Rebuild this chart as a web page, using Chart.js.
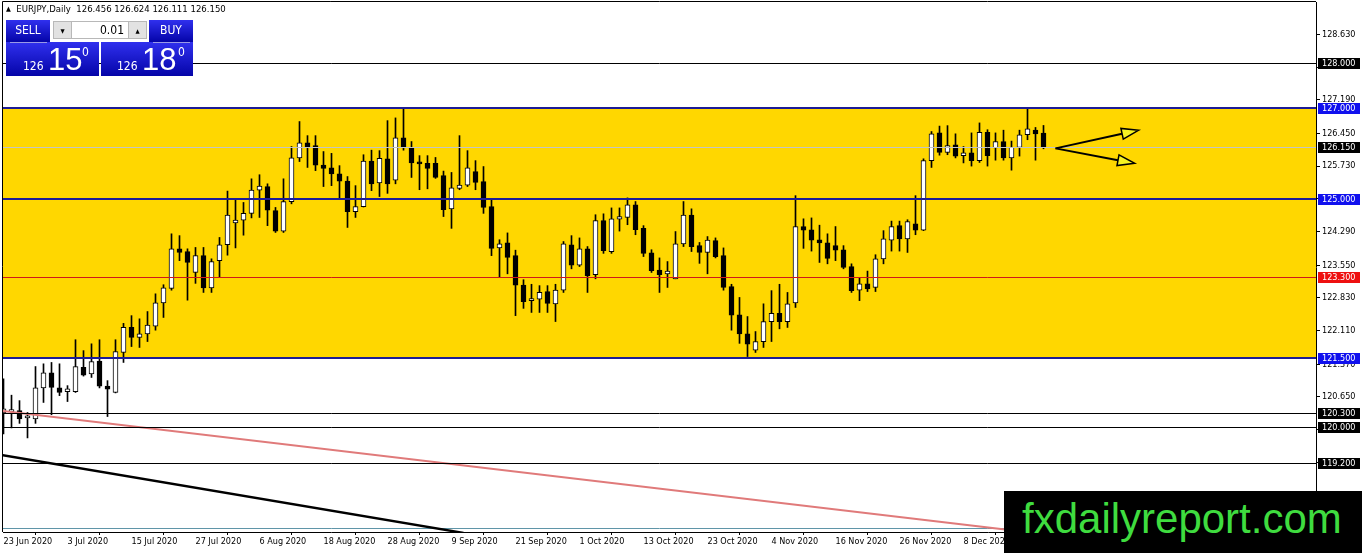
<!DOCTYPE html>
<html>
<head>
<meta charset="utf-8">
<title>EURJPY Daily</title>
<script src="https://cdn.jsdelivr.net/npm/chart.js@4.4.1/dist/chart.umd.min.js"></script>
<style>
  body { margin: 0; background: #fff; }
  #wrap { position: relative; width: 1362px; height: 553px; overflow: hidden; }
  #c { position: absolute; left: 0; top: 0; }
  .ui { position: absolute; font-family: "DejaVu Sans Condensed", "DejaVu Sans", sans-serif; }
  .blue { background: linear-gradient(#3030ee, #0404a8); color: #fff; }
  .sep { position: absolute; height: 1px; background: #9a9ae6; }
  .txt { position: absolute; color: #fff; white-space: nowrap; }
</style>
</head>
<body>
<div id="wrap">
  <canvas id="c" width="1362" height="553"></canvas>

  <div class="ui" style="left:6px;top:3px;font-size:9.5px;color:#000;white-space:nowrap;">
    <span style="font-size:7px;position:relative;top:-1px;">&#9650;</span>&nbsp; EURJPY,Daily&nbsp; 126.456 126.624 126.111 126.150
  </div>

  <div class="ui blue" style="left:6px;top:20px;width:44px;height:22px;font-size:12px;line-height:21px;text-align:center;">SELL</div>
  <div class="ui blue" style="left:149px;top:20px;width:44px;height:22px;font-size:12px;line-height:21px;text-align:center;">BUY</div>
  <div class="ui" style="left:51px;top:20px;width:97px;height:21px;background:#fff;">
    <div style="position:absolute;left:2px;top:1px;width:19px;height:18px;background:#e2e2e2;border:1px solid #b8b8b8;box-sizing:border-box;font-size:6px;line-height:17px;text-align:center;">&#9660;</div>
    <div style="position:absolute;left:21px;top:1px;width:56px;height:18px;background:#fff;border-top:1px solid #b8b8b8;border-bottom:1px solid #b8b8b8;box-sizing:border-box;font-size:12px;line-height:16px;text-align:right;padding-right:4px;">0.01</div>
    <div style="position:absolute;left:77px;top:1px;width:19px;height:18px;background:#e2e2e2;border:1px solid #b8b8b8;box-sizing:border-box;font-size:6px;line-height:17px;text-align:center;">&#9650;</div>
  </div>
  <div class="ui blue" style="left:6px;top:42px;width:93px;height:34px;"></div>
  <div class="ui blue" style="left:101px;top:42px;width:92px;height:34px;"></div>
  <div class="sep" style="left:10px;top:42px;width:37px;"></div>
  <div class="sep" style="left:153px;top:42px;width:37px;"></div>
  <div class="ui txt" style="left:23px;top:60px;font-size:12px;line-height:12px;">126</div>
  <div class="ui txt" style="left:48px;top:44px;font-family:'Liberation Sans',sans-serif;font-size:31px;line-height:31px;">15</div>
  <div class="ui txt" style="left:82px;top:46px;font-size:12px;line-height:12px;">0</div>
  <div class="ui txt" style="left:117px;top:60px;font-size:12px;line-height:12px;">126</div>
  <div class="ui txt" style="left:142px;top:44px;font-family:'Liberation Sans',sans-serif;font-size:31px;line-height:31px;">18</div>
  <div class="ui txt" style="left:178px;top:46px;font-size:12px;line-height:12px;">0</div>

  <div style="position:absolute;left:1004px;top:491px;width:358px;height:62px;background:#000;">
    <div style="position:absolute;left:18px;top:3px;font-family:'Liberation Sans',Arial,sans-serif;font-size:42px;line-height:50px;color:#3fdc3f;white-space:nowrap;">fxdailyreport.com</div>
  </div>
</div>

<script>
// daily candles, bar 0 = 23 Jun 2020
const opens = [
  120.30, 120.33, 120.35, 120.19, 120.17, 120.85, 121.18, 120.85, 120.77, 120.77,
  121.30, 121.16, 121.44, 120.89, 120.75, 121.63, 122.18, 121.96, 122.04, 122.21,
  122.72, 123.04, 123.91, 123.85, 123.39, 123.76, 123.05, 123.65, 124.00, 124.48,
  124.54, 124.69, 125.20, 125.28, 124.75, 124.30, 124.95, 125.91, 126.24, 126.18,
  125.75, 125.69, 125.56, 125.40, 124.73, 124.84, 125.84, 125.36, 125.89, 125.42,
  126.35, 126.13, 125.81, 125.79, 125.79, 125.52, 124.79, 125.24, 125.31, 125.61,
  125.39, 124.84, 123.93, 124.04, 123.76, 123.11, 122.77, 122.80, 122.97, 122.70,
  123.00, 124.00, 123.55, 123.91, 123.34, 124.53, 123.85, 124.56, 124.60, 124.88,
  124.36, 123.82, 123.44, 123.36, 123.25, 124.02, 124.65, 123.98, 123.83, 124.09,
  123.76, 123.08, 122.46, 122.04, 121.68, 121.87, 122.31, 122.49, 122.31, 122.72,
  124.40, 124.33, 124.11, 124.04, 123.98, 123.89, 123.52, 123.00, 123.14, 123.06,
  123.69, 124.10, 124.42, 124.13, 124.46, 124.32, 125.85, 126.46, 126.03, 126.20,
  125.96, 126.02, 125.85, 126.47, 126.13, 126.27, 125.91, 126.14, 126.42, 126.52,
  126.456
];
const highs = [
  121.05, 120.69, 120.57, 120.31, 121.32, 121.38, 121.41, 121.38, 120.90, 121.91,
  121.67, 121.82, 121.91, 121.01, 121.91, 122.27, 122.44, 122.37, 122.53, 122.92,
  123.12, 124.24, 124.20, 123.91, 123.94, 123.94, 123.69, 124.16, 125.18, 124.98,
  124.93, 125.45, 125.54, 125.34, 124.82, 125.45, 126.16, 126.71, 126.40, 126.40,
  126.05, 126.01, 125.74, 125.50, 125.30, 125.98, 126.08, 126.07, 126.73, 126.79,
  127.01, 126.27, 125.96, 125.96, 125.92, 125.62, 125.59, 126.40, 126.07, 125.85,
  125.72, 124.98, 124.11, 124.26, 123.88, 123.23, 123.13, 123.10, 123.10, 123.13,
  124.07, 124.20, 124.15, 123.96, 124.66, 124.68, 124.81, 124.81, 125.03, 124.95,
  124.42, 123.89, 123.71, 123.63, 124.29, 124.95, 124.79, 124.05, 124.18, 124.15,
  123.93, 123.13, 122.84, 122.42, 122.09, 122.70, 122.99, 123.13, 122.95, 125.08,
  124.57, 124.59, 124.43, 124.24, 124.40, 123.98, 123.58, 123.27, 123.42, 123.78,
  124.31, 124.52, 124.52, 124.55, 125.08, 125.89, 126.49, 126.61, 126.62, 126.44,
  126.16, 126.46, 126.68, 126.53, 126.46, 126.52, 126.28, 126.52, 126.99, 126.58,
  126.624
];
const lows = [
  119.84, 119.97, 120.07, 119.75, 120.07, 120.53, 120.26, 120.68, 120.55, 120.75,
  121.11, 121.08, 120.85, 120.22, 120.74, 121.41, 121.76, 121.74, 121.87, 122.12,
  122.40, 123.00, 123.65, 122.78, 123.15, 122.95, 122.95, 123.28, 123.77, 123.93,
  124.21, 124.59, 124.60, 124.42, 124.27, 124.27, 124.90, 125.83, 125.70, 125.63,
  125.28, 125.30, 125.01, 124.38, 124.60, 124.83, 125.19, 125.06, 125.13, 125.34,
  126.08, 125.48, 125.21, 125.23, 125.46, 124.62, 124.36, 125.21, 125.28, 125.21,
  124.69, 123.76, 123.28, 123.36, 122.44, 122.60, 122.51, 122.51, 122.51, 122.31,
  122.95, 123.47, 123.52, 122.95, 123.25, 123.81, 123.81, 124.30, 124.44, 124.22,
  123.74, 123.39, 122.95, 123.06, 123.25, 123.96, 123.85, 123.59, 123.36, 123.71,
  123.00, 122.12, 121.83, 121.54, 121.63, 121.74, 121.87, 122.15, 122.18, 122.62,
  123.92, 123.86, 123.61, 123.58, 123.65, 123.47, 122.95, 122.77, 122.97, 122.97,
  123.58, 123.86, 123.86, 123.83, 124.22, 124.31, 125.70, 125.97, 125.98, 125.91,
  125.80, 125.73, 125.81, 125.73, 125.86, 125.86, 125.64, 125.95, 126.31, 125.86,
  126.111
];
const closes = [
  120.39, 120.35, 120.17, 120.20, 120.85, 121.18, 120.86, 120.75, 120.83, 121.32,
  121.13, 121.43, 120.89, 120.82, 121.65, 122.18, 121.96, 122.04, 122.23, 122.72,
  123.05, 123.91, 123.83, 123.61, 123.76, 123.05, 123.63, 124.00, 124.65, 124.54,
  124.69, 125.20, 125.29, 124.76, 124.30, 124.95, 125.91, 126.24, 126.14, 125.75,
  125.68, 125.56, 125.40, 124.73, 124.84, 125.84, 125.34, 125.90, 125.34, 126.35,
  126.13, 125.80, 125.78, 125.68, 125.48, 124.77, 125.25, 125.31, 125.69, 125.37,
  124.82, 123.92, 124.02, 123.72, 123.11, 122.75, 122.80, 122.95, 122.71, 123.00,
  124.02, 123.55, 123.91, 123.32, 124.53, 123.87, 124.57, 124.62, 124.88, 124.33,
  123.81, 123.43, 123.34, 123.42, 124.02, 124.65, 123.96, 123.83, 124.10, 123.74,
  123.06, 122.45, 122.04, 121.81, 121.87, 122.31, 122.49, 122.31, 122.70, 124.40,
  124.32, 124.10, 124.04, 123.70, 123.88, 123.50, 122.99, 123.14, 123.03, 123.69,
  124.13, 124.40, 124.13, 124.51, 124.32, 125.85, 126.44, 126.03, 126.18, 125.95,
  126.02, 125.85, 126.47, 125.96, 126.27, 125.91, 126.14, 126.42, 126.55, 126.44,
  126.150
];

const tickBars = [0, 8, 16, 24, 32, 40, 48, 56, 64, 72, 80, 88, 96, 104, 112, 120, 128];
const tickLabels = ["23 Jun 2020", "3 Jul 2020", "15 Jul 2020", "27 Jul 2020", "6 Aug 2020",
  "18 Aug 2020", "28 Aug 2020", "9 Sep 2020", "21 Sep 2020", "1 Oct 2020", "13 Oct 2020",
  "23 Oct 2020", "4 Nov 2020", "16 Nov 2020", "26 Nov 2020", "8 Dec 2020", "18 Dec 2020"];
const priceTicks = [128.63, 127.91, 127.19, 126.45, 125.73, 125.01, 124.29, 123.55,
  122.83, 122.11, 121.37, 120.65, 119.93, 119.21, 118.49];

// drawn objects
const zoneTop = 127.0;
const zoneBottom = 121.5;
const levelPrices = [128.0, 127.0, 126.15, 125.0, 123.3, 121.5, 120.3, 120.0, 119.2];
const levelKinds = ["line", "zone", "bid", "zone", "mid", "zone", "line", "line", "line"];
const floorLine = 117.77;
const pinkTrend = [[-0.4, 120.35], [126, 117.72]];
const blackTrend = [[-0.4, 119.38], [57.5, 117.66]];
const arrowStart = [131.5, 126.12];
const arrowEnds = [[141.9, 126.52], [141.4, 125.79]];

const FONT = "'DejaVu Sans Condensed', 'DejaVu Sans', sans-serif";
const kindStyle = {
  line: { color: "#000000", width: 1, box: "#000000" },
  zone: { color: "#1c1c96", width: 2, box: "#1010ee" },
  bid:  { color: "#c4c4c4", width: 1, box: "#000000" },
  mid:  { color: "#d01818", width: 1, box: "#ee1010" }
};

function hLine(ctx, a, py, color, width) {
  const yy = width % 2 ? Math.round(py) + 0.5 : Math.round(py);
  ctx.strokeStyle = color;
  ctx.lineWidth = width;
  ctx.beginPath();
  ctx.moveTo(a.left, yy);
  ctx.lineTo(a.right, yy);
  ctx.stroke();
}

function noPad(s) {
  s.paddingTop = 0;
  s.paddingBottom = 0;
  s.paddingLeft = 0;
  s.paddingRight = 0;
}

const overlay = {
  id: "overlay",
  beforeDatasetsDraw(chart) {
    const { ctx, chartArea: a, scales: { y } } = chart;
    const t = y.getPixelForValue(zoneTop);
    const b = y.getPixelForValue(zoneBottom);
    ctx.save();
    ctx.fillStyle = "#ffd700";
    ctx.fillRect(a.left, t, a.right - a.left, b - t);
    hLine(ctx, a, y.getPixelForValue(floorLine), "#5f95a8", 1);
    ctx.restore();
  },
  afterDatasetsDraw(chart) {
    const { ctx, chartArea: a, scales: { x, y } } = chart;
    ctx.save();
    ctx.beginPath();
    ctx.rect(a.left, a.top, a.right - a.left, a.bottom - a.top);
    ctx.clip();
    levelPrices.forEach((p, i) => {
      const st = kindStyle[levelKinds[i]];
      hLine(ctx, a, y.getPixelForValue(p), st.color, st.width);
    });

    // arrows
    const sx = x.getPixelForValue(arrowStart[0]);
    const sy = y.getPixelForValue(arrowStart[1]);
    arrowEnds.forEach(([ex, ey]) => {
      const tx = x.getPixelForValue(ex);
      const ty = y.getPixelForValue(ey);
      const len = Math.hypot(tx - sx, ty - sy);
      const ux = (tx - sx) / len, uy = (ty - sy) / len;
      const bx = tx - ux * 17, by = ty - uy * 17;
      ctx.strokeStyle = "#000";
      ctx.lineWidth = 2;
      ctx.beginPath();
      ctx.moveTo(sx, sy);
      ctx.lineTo(bx, by);
      ctx.stroke();
      ctx.beginPath();
      ctx.moveTo(tx, ty);
      ctx.lineTo(bx - uy * 5.5, by + ux * 5.5);
      ctx.lineTo(bx + uy * 5.5, by - ux * 5.5);
      ctx.closePath();
      ctx.fillStyle = "#f6f222";
      ctx.fill();
      ctx.lineWidth = 1.5;
      ctx.stroke();
    });
    ctx.restore();

    // left and top frame
    ctx.save();
    ctx.strokeStyle = "#000";
    ctx.lineWidth = 1;
    ctx.beginPath();
    ctx.moveTo(a.left - 0.5, a.bottom);
    ctx.lineTo(a.left - 0.5, a.top - 0.5);
    ctx.lineTo(a.right, a.top - 0.5);
    ctx.stroke();
    ctx.restore();
  },
  afterDraw(chart) {
    const { ctx, chartArea: a, scales: { y } } = chart;
    ctx.save();
    ctx.font = "9px " + FONT;
    ctx.textBaseline = "middle";
    ctx.textAlign = "left";
    levelPrices.forEach((p, i) => {
      const st = kindStyle[levelKinds[i]];
      const py = Math.round(y.getPixelForValue(p));
      ctx.fillStyle = st.box;
      ctx.fillRect(a.right + 2, py - 5, 42, 11);
      ctx.fillStyle = "#fff";
      ctx.fillText(p.toFixed(3), a.right + 6, py + 0.5);
    });
    ctx.restore();
  }
};

const wickData = lows.map((l, i) => ({ x: i, y: [l, highs[i]] }));
const bodyData = opens.map((o, i) => ({ x: i, y: [Math.min(o, closes[i]), Math.max(o, closes[i])] }));
const bodyColors = opens.map((o, i) => (closes[i] >= o ? "#ffffff" : "#000000"));

new Chart(document.getElementById("c"), {
  type: "bar",
  data: {
    datasets: [
      {
        type: "line",
        data: pinkTrend.map(([px, py]) => ({ x: px, y: py })),
        borderColor: "#e07a7a",
        borderWidth: 2,
        pointRadius: 0,
        order: 1
      },
      {
        type: "line",
        data: blackTrend.map(([px, py]) => ({ x: px, y: py })),
        borderColor: "#000000",
        borderWidth: 2.5,
        pointRadius: 0,
        order: 1
      },
      {
        data: bodyData,
        backgroundColor: bodyColors,
        borderColor: "#000",
        borderWidth: 1,
        borderSkipped: false,
        barThickness: 5,
        minBarLength: 2,
        grouped: false,
        order: 2
      },
      {
        data: wickData,
        backgroundColor: "#000",
        barThickness: 1,
        grouped: false,
        order: 3
      }
    ]
  },
  options: {
    responsive: false,
    animation: false,
    events: [],
    layout: { padding: { left: 3, top: 2, right: 0, bottom: 0 } },
    plugins: { legend: { display: false }, tooltip: { enabled: false } },
    scales: {
      x: {
        type: "linear",
        min: -0.0625,
        max: 164.0625,
        offset: false,
        afterBuildTicks: s => { s.ticks = tickBars.map(v => ({ value: v })); },
        afterFit: s => { s.height = 21; noPad(s); },
        ticks: {
          autoSkip: false,
          maxRotation: 0,
          align: "start",
          padding: 1,
          color: "#000",
          font: { family: FONT, size: 9 },
          callback: (v, i) => tickLabels[i]
        },
        grid: { drawOnChartArea: false, drawTicks: true, tickLength: 3, color: "#000" },
        border: { display: true, color: "#000" }
      },
      y: {
        position: "right",
        min: 117.68,
        max: 129.34,
        afterBuildTicks: s => { s.ticks = priceTicks.map(v => ({ value: v })); },
        afterFit: s => { s.width = 46; noPad(s); },
        ticks: {
          padding: 2,
          color: "#000",
          font: { family: FONT, size: 9 },
          callback: v => v.toFixed(3)
        },
        grid: { drawOnChartArea: false, drawTicks: true, tickLength: 4, color: "#000" },
        border: { display: true, color: "#000" }
      }
    }
  },
  plugins: [overlay]
});
</script>
</body>
</html>
